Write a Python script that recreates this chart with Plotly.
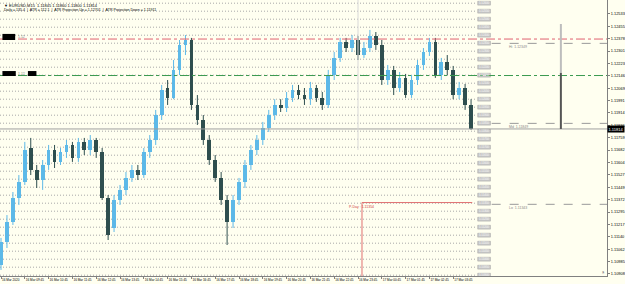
import plotly.graph_objects as go

# ---------------- data ----------------
x_tick_bars = [0, 4, 8, 12, 16, 20, 24, 28, 32, 36, 40, 44, 48, 52, 56, 60, 64, 68, 72, 76]
x_tick_labels = ["16 Mar 2020", "16 Mar 09:45", "16 Mar 10:45", "16 Mar 11:45", "16 Mar 12:45",
                 "16 Mar 13:45", "16 Mar 14:45", "16 Mar 15:45", "16 Mar 16:45", "16 Mar 17:45",
                 "16 Mar 18:45", "16 Mar 19:45", "16 Mar 20:45", "16 Mar 21:45", "16 Mar 22:45",
                 "16 Mar 23:45", "17 Mar 00:45", "17 Mar 01:45", "17 Mar 02:45", "17 Mar 03:45"]

open_ = [1.10964, 1.11108, 1.11233, 1.11383, 1.11483, 1.11695, 1.11558, 1.11495, 1.11589, 1.11683,
         1.11608, 1.11670, 1.11714, 1.11633, 1.11733, 1.11683, 1.11745, 1.11670, 1.11383, 1.11195,
         1.11370, 1.11433, 1.11508, 1.11558, 1.11526, 1.11670, 1.11745, 1.11901, 1.12070, 1.12008,
         1.12183, 1.12339, 1.12370, 1.11964, 1.11870, 1.11745, 1.11620, 1.11508, 1.11370, 1.11233,
         1.11370, 1.11483, 1.11589, 1.11683, 1.11745, 1.11820, 1.11901, 1.11964, 1.11945, 1.12008,
         1.12058, 1.12026, 1.12000, 1.12070, 1.12008, 1.11964, 1.12151, 1.12258, 1.12358, 1.12320,
         1.12370, 1.12276, 1.12320, 1.12395, 1.12339, 1.12120, 1.12183, 1.12070, 1.12133, 1.12026,
         1.12120, 1.12214, 1.12295, 1.12358, 1.12151, 1.12233, 1.12183, 1.12026, 1.12070, 1.11964]
high_ = [1.11133, 1.11276, 1.11420, 1.11526, 1.11733, 1.11758, 1.11589, 1.11620, 1.11714, 1.11714,
         1.11695, 1.11745, 1.11733, 1.11758, 1.11758, 1.11776, 1.11758, 1.11695, 1.11401, 1.11401,
         1.11464, 1.11545, 1.11589, 1.11589, 1.11695, 1.11776, 1.11933, 1.12089, 1.12120, 1.12245,
         1.12370, 1.12401, 1.12383, 1.12026, 1.11901, 1.11776, 1.11651, 1.11545, 1.11401, 1.11401,
         1.11508, 1.11620, 1.11714, 1.11776, 1.11858, 1.11933, 1.12000, 1.12000, 1.12045, 1.12089,
         1.12089, 1.12070, 1.12108, 1.12089, 1.12045, 1.12183, 1.12295, 1.12383, 1.12383, 1.12401,
         1.12395, 1.12358, 1.12433, 1.12420, 1.12370, 1.12214, 1.12208, 1.12170, 1.12158, 1.12151,
         1.12245, 1.12320, 1.12383, 1.12383, 1.12258, 1.12276, 1.12208, 1.12108, 1.12095, 1.12000]
low_ = [1.10933, 1.11070, 1.11214, 1.11339, 1.11464, 1.11526, 1.11445, 1.11433, 1.11558, 1.11570,
        1.11589, 1.11633, 1.11608, 1.11608, 1.11651, 1.11651, 1.11633, 1.11370, 1.11120, 1.11170,
        1.11339, 1.11401, 1.11483, 1.11495, 1.11508, 1.11633, 1.11714, 1.11870, 1.11964, 1.12000,
        1.12151, 1.12276, 1.11933, 1.11839, 1.11714, 1.11589, 1.11483, 1.11339, 1.11089, 1.11195,
        1.11339, 1.11445, 1.11558, 1.11651, 1.11714, 1.11795, 1.11870, 1.11920, 1.11920, 1.11983,
        1.12000, 1.11964, 1.11964, 1.11983, 1.11933, 1.11945, 1.12120, 1.12233, 1.12295, 1.12295,
        1.12245, 1.12258, 1.12295, 1.12308, 1.12089, 1.12089, 1.12026, 1.12045, 1.12008, 1.12008,
        1.12089, 1.12183, 1.12270, 1.12133, 1.12120, 1.12151, 1.12000, 1.12000, 1.11933, 1.11808]
close_ = [1.11108, 1.11233, 1.11383, 1.11483, 1.11683, 1.11558, 1.11495, 1.11589, 1.11683, 1.11608,
          1.11670, 1.11714, 1.11633, 1.11733, 1.11683, 1.11745, 1.11670, 1.11383, 1.11151, 1.11370,
          1.11433, 1.11508, 1.11558, 1.11526, 1.11670, 1.11745, 1.11901, 1.12058, 1.12008, 1.12183,
          1.12339, 1.12370, 1.11964, 1.11870, 1.11745, 1.11620, 1.11508, 1.11370, 1.11233, 1.11370,
          1.11483, 1.11589, 1.11683, 1.11745, 1.11820, 1.11901, 1.11964, 1.11945, 1.12008, 1.12058,
          1.12026, 1.12000, 1.12070, 1.12008, 1.11964, 1.12151, 1.12258, 1.12358, 1.12320, 1.12370,
          1.12276, 1.12320, 1.12395, 1.12339, 1.12120, 1.12183, 1.12070, 1.12133, 1.12026, 1.12120,
          1.12214, 1.12295, 1.12358, 1.12151, 1.12233, 1.12183, 1.12026, 1.12070, 1.11964, 1.11814]

y_tick_vals = [1.12533, 1.12455, 1.12378, 1.12301, 1.12223, 1.12146, 1.12069, 1.11991, 1.11914,
               1.11836, 1.11759, 1.11682, 1.11604, 1.11527, 1.11449, 1.11372, 1.11295, 1.11217,
               1.11140, 1.11062, 1.10985, 1.10908]
y_tick_labels = ["1.12533", "1.12455", "1.12378", "1.12301", "1.12223", "1.12146", "1.12069", "1.11991",
                 "1.11914", "1.11836", "1.11759", "1.11682", "1.11604", "1.11527", "1.11449", "1.11372",
                 "1.11295", "1.11217", "1.11140", "1.11062", "1.10985", "1.10908"]

round_levels = [1.1260, 1.1255, 1.1250, 1.1245, 1.1240, 1.1235, 1.1230, 1.1225, 1.1220, 1.1215,
                1.1210, 1.1205, 1.1200, 1.1195, 1.1190, 1.1185, 1.1180, 1.1175, 1.1170, 1.1165,
                1.1160, 1.1155, 1.1150, 1.1145, 1.1140, 1.1135, 1.1130, 1.1125, 1.1120, 1.1115,
                1.1110, 1.1105, 1.1100, 1.1095, 1.1090]

red_level = 1.12376
green_level = 1.12148
gray_levels = [1.12349, 1.11849, 1.11343]
gray_names = ["Hi", "Md", "Lo"]
bid_price = 1.11814
pivot_price = 1.11354
pivot_start_bar = 60.67
pivot_end_bar = 79.2
atr_up = 1.12470
atr_mid = 1.12164
separator_bar = 60.0
separator_bottom = 1.11683
tag_levels = [(1.12408, 1.12370), (1.12176, 1.12145)]

Y_MIN, Y_MAX = 1.10895, 1.12620

# ---------------- styling ----------------
BG = "#FFFFF0"
UP = "#5DB9E8"
DN = "#2F4F4F"
FONT = "Liberation Sans"

fig = go.Figure()

n = len(close_)
for is_up, col in [(True, UP), (False, DN)]:
    xs, base, hgt, wx, wy = [], [], [], [], []
    for i in range(n):
        o, c = open_[i], close_[i]
        if (c >= o) != is_up:
            continue
        xs.append(i)
        base.append(min(o, c))
        hgt.append(max(abs(c - o), 0.00004))
        wx += [i, i, None]
        wy += [low_[i], high_[i], None]
    fig.add_trace(go.Scatter(x=wx, y=wy, mode="lines", line=dict(color=col, width=1),
                             hoverinfo="skip", showlegend=False))
    fig.add_trace(go.Bar(x=xs, base=base, y=hgt, width=0.62, marker=dict(color=col, line=dict(width=0)),
                         showlegend=False))

shapes = []
annotations = []
for lvl in round_levels:
    shapes.append(dict(type="line", xref="paper", yref="y", x0=0, x1=0.785, y0=lvl, y1=lvl,
                       line=dict(color="#A8A8A8", width=1, dash="1px,2px"), layer="below"))
    shapes.append(dict(type="rect", xref="paper", yref="y", x0=0.787, x1=0.808,
                       y0=lvl - 0.00012, y1=lvl + 0.00012, fillcolor="#CACACA",
                       line=dict(color="#A0A0A0", width=0.5)))
    annotations.append(dict(xref="paper", yref="y", x=0.7975, y=lvl, text=f"{lvl:.5f}", showarrow=False,
                            xanchor="center", yanchor="middle", borderpad=0,
                            font=dict(size=2.8, color="#F8F8F8", family=FONT)))

shapes.append(dict(type="line", xref="paper", yref="y", x0=0, x1=1, y0=red_level, y1=red_level,
                   line=dict(color="#E06070", width=1, dash="dashdot")))
shapes.append(dict(type="line", xref="paper", yref="y", x0=0, x1=1, y0=green_level, y1=green_level,
                   line=dict(color="#3A9A50", width=1, dash="dashdot")))
for lvl, nm in zip(gray_levels, gray_names):
    shapes.append(dict(type="line", xref="paper", yref="y", x0=0.81, x1=1, y0=lvl, y1=lvl,
                       line=dict(color="#9A9A9A", width=1, dash="dash")))
    annotations.append(dict(xref="paper", yref="y", x=0.835, y=lvl, text=f"{nm}  {lvl:.5f}", showarrow=False,
                            xanchor="left", yanchor="top", font=dict(size=3.5, color="#888888", family=FONT)))
shapes.append(dict(type="line", xref="paper", yref="y", x0=0, x1=1, y0=bid_price, y1=bid_price,
                   line=dict(color="#A0A0A0", width=1)))
# ATR projection bar
shapes.append(dict(type="line", xref="paper", yref="y", x0=0.924, x1=0.924, y0=atr_mid, y1=atr_up,
                   line=dict(color="#BDBDBD", width=2)))
shapes.append(dict(type="line", xref="paper", yref="y", x0=0.924, x1=0.924, y0=bid_price, y1=atr_mid,
                   line=dict(color="#555555", width=2)))
# pivot
shapes.append(dict(type="line", xref="x", yref="y", x0=pivot_start_bar, x1=pivot_start_bar, y0=Y_MIN,
                   y1=pivot_price, line=dict(color="#E07070", width=1)))
shapes.append(dict(type="line", xref="x", yref="y", x0=pivot_start_bar, x1=pivot_end_bar, y0=pivot_price,
                   y1=pivot_price, line=dict(color="#E07070", width=1)))
annotations.append(dict(xref="x", yref="y", x=pivot_start_bar, y=pivot_price, text=f"P-Day : {pivot_price:.5f}",
                        showarrow=False, xanchor="center", yanchor="top",
                        font=dict(size=3.5, color="#D04040", family=FONT)))
# separator
shapes.append(dict(type="line", xref="x", yref="y", x0=separator_bar, x1=separator_bar, y0=separator_bottom,
                   y1=Y_MAX, line=dict(color="#D8D8D8", width=1)))

# left black tags
for (top, bot), xs_ in zip(tag_levels, [[(0.004, 0.025)], [(0.004, 0.026), (0.046, 0.060)]]):
    for x0, x1 in xs_:
        shapes.append(dict(type="rect", xref="paper", yref="y", x0=x0, x1=x1, y0=bot, y1=top,
                           fillcolor="#000000", line=dict(width=0)))
    annotations.append(dict(xref="paper", yref="y", x=0.027, y=(top + bot) / 2, xanchor="left", yanchor="middle",
                            text=f"{(top + bot) / 2:.2f}", showarrow=False,
                            font=dict(size=3.5, color="#888888", family=FONT)))

# current price label
annotations.append(dict(xref="paper", yref="y", x=1.0, y=bid_price, text=f"{bid_price:.5f}", showarrow=False,
                        xanchor="left", yanchor="middle", bgcolor="#000000", borderpad=0.5,
                        font=dict(size=4, color="#FFFFFF", family=FONT)))
# header text
annotations.append(dict(xref="paper", yref="paper", x=0.004, y=0.998, xanchor="left", yanchor="top",
                        text="▼ EURUSD,M15  1.11845 1.11860 1.11800 1.11814", showarrow=False,
                        font=dict(size=4, color="#000000", family=FONT)))
annotations.append(dict(xref="paper", yref="paper", x=0.004, y=0.978, xanchor="left", yanchor="top",
                        text="Daily = 135.4  |  ATR = 112.1  |  ATR Projection Up = 1.12701  |  ATR Projection Down = 1.11911",
                        showarrow=False, font=dict(size=3.6, color="#000000", family=FONT)))
annotations.append(dict(xref="paper", yref="y", x=0.993, y=Y_MIN + 0.0002, xanchor="center", yanchor="middle",
                        text="§", showarrow=False, font=dict(size=4, color="#606060", family=FONT)))

fig.update_layout(
    width=625, height=284,
    margin=dict(l=0, r=18, t=0, b=8, pad=0),
    paper_bgcolor=BG, plot_bgcolor=BG,
    barmode="overlay", bargap=0,
    showlegend=False,
    shapes=shapes, annotations=annotations,
    font=dict(family=FONT, size=4, color="#000000"),
    xaxis=dict(range=[-0.17, 101.85], tickvals=x_tick_bars, ticktext=x_tick_labels, tickangle=0,
               ticklabelposition="outside right", ticks="outside", ticklen=2, tickcolor="#808080",
               tickfont=dict(size=3.1, color="#000000", family=FONT), showgrid=False, zeroline=False,
               showline=True, linecolor="#808080", linewidth=1),
    yaxis=dict(range=[Y_MIN, Y_MAX], side="right", tickvals=y_tick_vals, ticktext=y_tick_labels,
               ticks="outside", ticklen=2, tickcolor="#808080", tickfont=dict(size=3.9, color="#000000", family=FONT),
               showgrid=False, zeroline=False, showline=True, linecolor="#808080", linewidth=1, mirror=True),
)

fig.write_html("out.html")
